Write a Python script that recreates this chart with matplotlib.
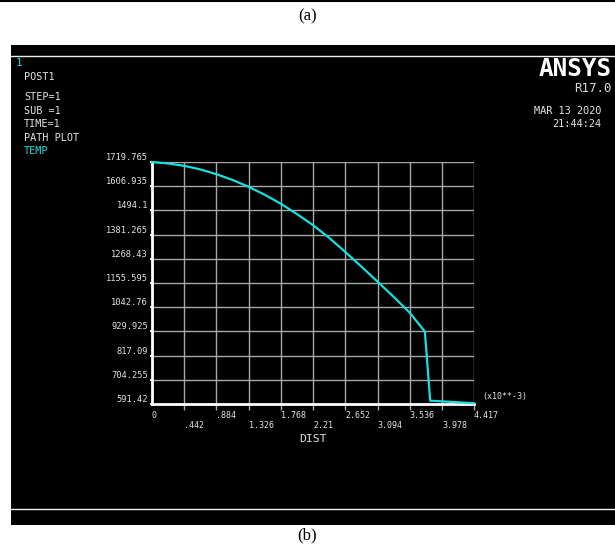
import matplotlib
matplotlib.use("Agg")
import matplotlib.pyplot as plt
from matplotlib.patches import Rectangle
from matplotlib.lines import Line2D

# Path plot of temperature along distance (x10**-3)
dist = [0.0, 0.221, 0.442, 0.663, 0.884, 1.105, 1.326, 1.547, 1.768, 1.989,
        2.21, 2.431, 2.652, 2.873, 3.094, 3.315, 3.536, 3.743, 3.816, 4.417]
temp = [1719.765, 1713.0, 1702.0, 1685.0, 1663.0, 1636.0, 1604.0, 1567.0,
        1525.0, 1477.0, 1425.0, 1366.0, 1300.0, 1232.0, 1162.0, 1091.0,
        1017.0, 929.0, 607.0, 595.0]

x_ticks = [0.442, 0.884, 1.326, 1.768, 2.21, 2.652, 3.094, 3.536, 3.978, 4.417]
x_labels_upper = ["0", ".884", "1.768", "2.652", "3.536", "4.417"]
x_pos_upper = [0.0, 0.884, 1.768, 2.652, 3.536, 4.417]
x_labels_lower = [".442", "1.326", "2.21", "3.094", "3.978"]
x_pos_lower = [0.442, 1.326, 2.21, 3.094, 3.978]
y_ticks = [591.42, 704.255, 817.09, 929.925, 1042.76, 1155.595,
           1268.43, 1381.265, 1494.1, 1606.935, 1719.765]
y_labels = ["591.42", "704.255", "817.09", "929.925", "1042.76", "1155.595",
            "1268.43", "1381.265", "1494.1", "1606.935", "1719.765"]

W, H = 615, 546
fig = plt.figure(figsize=(W / 100, H / 100), dpi=100)
fig.patch.set_facecolor("white")


def fx(x):
    return x / W


def fy(y):
    return 1 - y / H


MONO = "DejaVu Sans Mono"
TXT = "#e2e2e2"
CYAN = "#16e0e0"

# outer rule, captions and dark panel
fig.add_artist(Line2D([0, 1], [fy(1), fy(1)], color="black", lw=1.5))
fig.text(0.5, fy(16), "(a)", ha="center", va="center", fontsize=12,
         family="Liberation Serif", color="black")
fig.text(0.5, fy(535), "(b)", ha="center", va="center", fontsize=12,
         family="Liberation Serif", color="black")
fig.add_artist(Rectangle((fx(11), fy(525)), 1 - fx(11), fy(45) - fy(525),
                         transform=fig.transFigure, facecolor="black",
                         edgecolor="none", zorder=0))
fig.add_artist(Line2D([fx(11), 1], [fy(56), fy(56)], color="#f0f0f0", lw=1))
fig.add_artist(Line2D([fx(11), 1], [fy(509), fy(509)], color="#f0f0f0", lw=1))

# header text
fig.text(fx(16), fy(63), "1", color=CYAN, family=MONO, fontsize=8, va="center")
left_lines = [("POST1", 77, TXT), ("STEP=1", 97, TXT), ("SUB =1", 111, TXT),
              ("TIME=1", 124, TXT), ("PATH PLOT", 138, TXT), ("TEMP", 151, CYAN)]
for s, y, c in left_lines:
    fig.text(fx(24), fy(y), s, color=c, family=MONO, fontsize=7.3, va="center")

fig.text(fx(612), fy(69), "ANSYS", color="white", family=MONO, weight="bold",
         fontsize=17.5, ha="right", va="center")
fig.text(fx(612), fy(88), "R17.0", color="#d8d8d8", family=MONO,
         fontsize=9, ha="right", va="center")
fig.text(fx(601), fy(111), "MAR 13 2020", color=TXT, family=MONO,
         fontsize=7.4, ha="right", va="center")
fig.text(fx(601), fy(124), "21:44:24", color=TXT, family=MONO,
         fontsize=7.4, ha="right", va="center")

# plot area
L, R, T, B = 152, 474, 162, 404
ax = fig.add_axes([fx(L), fy(B), fx(R) - fx(L), fy(T) - fy(B)])
ax.set_facecolor("black")
ax.set_xlim(0, 4.417)
ax.set_ylim(591.42, 1719.765)

GRID = "#a8a8a8"
for x in x_ticks:
    ax.axvline(x, color=GRID, lw=1, zorder=1)
for y in y_ticks[1:]:
    ax.axhline(y, color=GRID, lw=1, zorder=1)

for side in ("top", "right"):
    ax.spines[side].set_visible(False)
ax.spines["left"].set_color("white")
ax.spines["left"].set_linewidth(2)
ax.spines["bottom"].set_color("white")
ax.spines["bottom"].set_linewidth(2)
ax.spines["left"].set_zorder(3)
ax.spines["bottom"].set_zorder(3)

ax.set_xticks(x_ticks)
ax.set_xticklabels([])
ax.set_yticks(y_ticks)
ax.set_yticklabels([])
ax.tick_params(axis="x", direction="out", length=4, width=1, color=GRID)
ax.tick_params(axis="y", direction="out", length=1.5, width=1.5, color=TXT)

ax.plot(dist, temp, color=CYAN, lw=1.6, zorder=4, clip_on=False)

xt = ax.get_xaxis_transform()
for s, x in zip(x_labels_upper, x_pos_upper):
    ax.text(x, (B - 415) / (B - T), s, transform=xt, ha="left", va="center",
            color=TXT, family=MONO, fontsize=6)
for s, x in zip(x_labels_lower, x_pos_lower):
    ax.text(x, (B - 426) / (B - T), s, transform=xt, ha="left", va="center",
            color=TXT, family=MONO, fontsize=6)
ax.text(0.5, (B - 439) / (B - T), "DIST", transform=ax.transAxes, ha="center",
        va="center", color=TXT, family=MONO, fontsize=8.2)
ax.text((482 - L) / (R - L), (B - 397) / (B - T), "(x10**-3)",
        transform=ax.transAxes, ha="left", va="center", color=TXT,
        family=MONO, fontsize=6)

yt = ax.get_yaxis_transform()
for s, y in zip(y_labels, y_ticks):
    ax.text((148 - L) / (R - L), y, s, transform=yt, ha="right", va="bottom",
            color=TXT, family=MONO, fontsize=6.3)

fig.savefig("out.png", dpi=100, facecolor=fig.get_facecolor())
